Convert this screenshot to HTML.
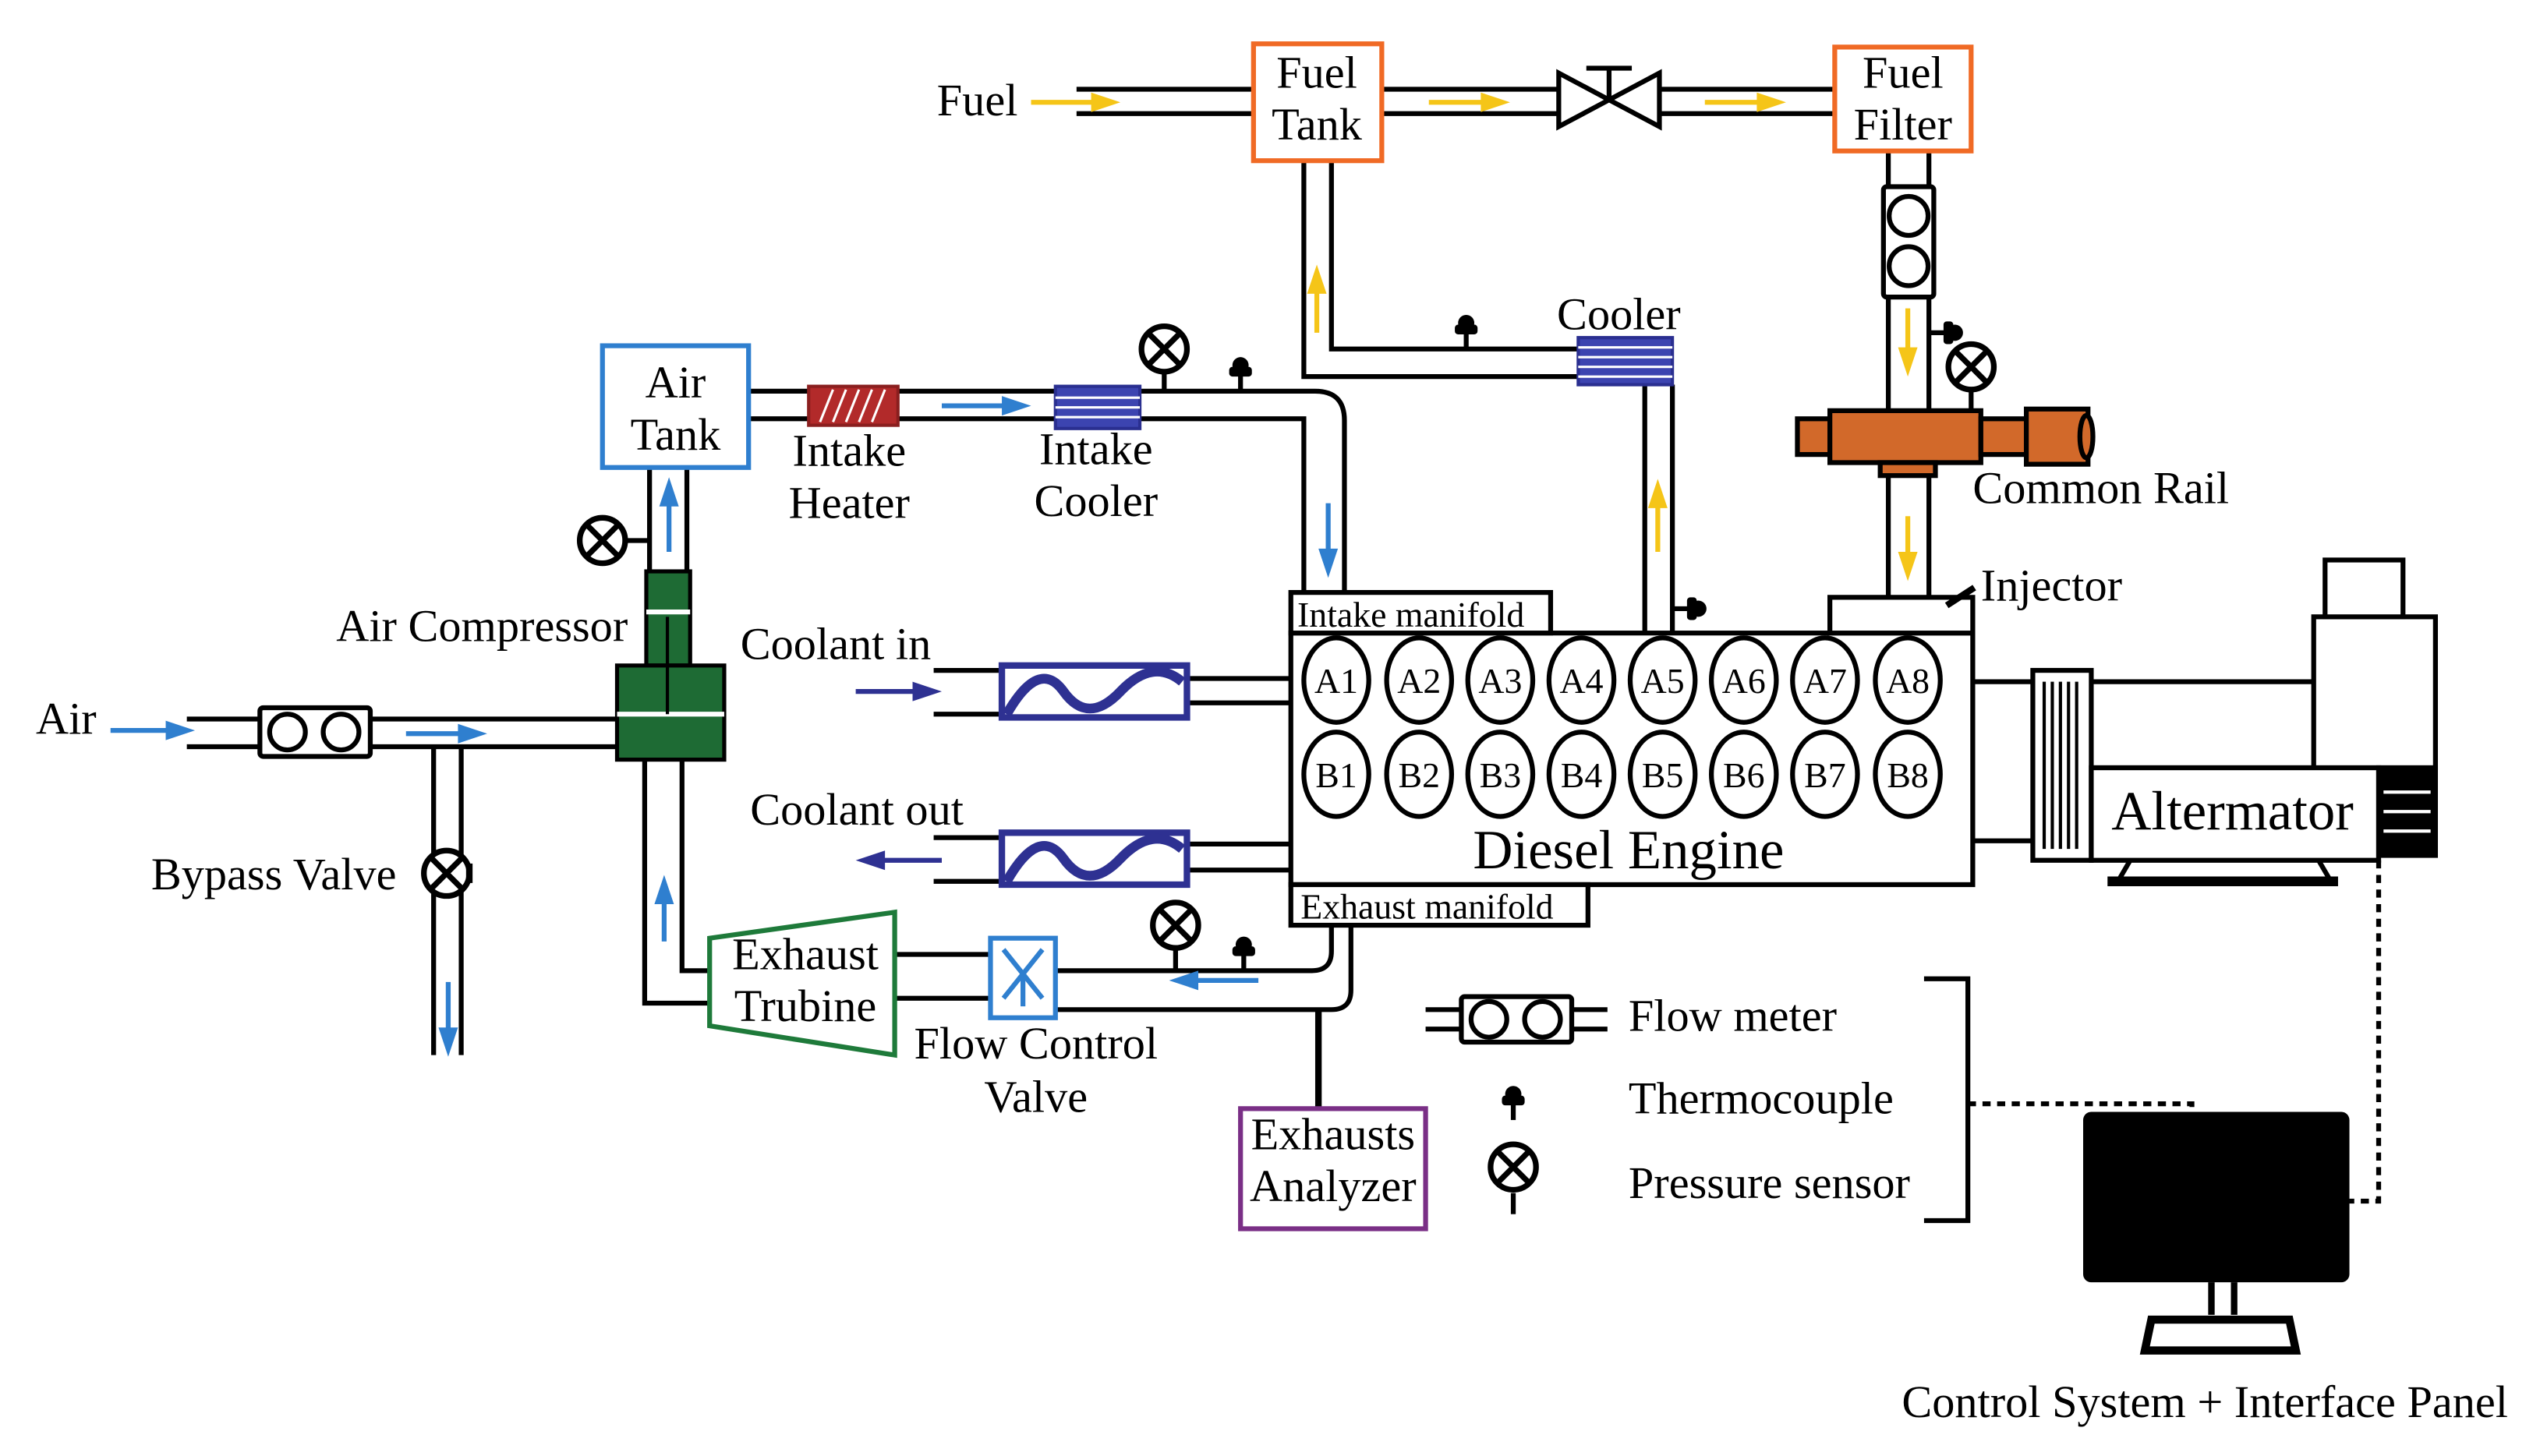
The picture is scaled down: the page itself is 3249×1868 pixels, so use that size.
<!DOCTYPE html>
<html><head><meta charset="utf-8"><style>html,body{margin:0;padding:0;background:#fff}svg{display:block}text{font-family:"Liberation Serif",serif;fill:#000}</style></head><body>
<svg width="3249" height="1868" viewBox="0 0 1560 897" xmlns="http://www.w3.org/2000/svg">
<defs>
<g id="ps"><circle cx="0" cy="0" r="14" fill="#fff" stroke="#000" stroke-width="3.5"/><path d="M-9,-9L9,9M9,-9L-9,9" stroke="#000" stroke-width="3.5"/></g>
<g id="tc"><path d="M0,0v-14" stroke="#000" stroke-width="3"/><circle cx="0" cy="-16" r="5" fill="#000"/><rect x="-7" y="-15" width="14" height="6" rx="2" fill="#000"/></g>
</defs>
<g fill="none" stroke="#000" stroke-width="3">
<path d="M663,55H772M663,70H772M851,55H960M851,70H960M1022,55H1130M1022,70H1130"/>
<path d="M960,45L1022,78V45L960,78Z" fill="#fff"/>
<path d="M991,61V42M977,42H1005"/>
<path d="M803,99V232H972M820,99V215H972"/>
<path d="M1013,237V390M1030,237V390"/>
<path d="M1163,93V115M1188,93V115M1163,183V255M1188,183V255M1163,285V368M1188,285V368"/>
<rect x="1160" y="115" width="31" height="68" rx="2" fill="#fff"/>
<circle cx="1175.5" cy="133" r="12"/><circle cx="1175.5" cy="164" r="12"/>
<path d="M461,241H810Q828,241 828,259V365M461,258H803V365"/>
<path d="M400,288V352M423,288V352"/>
<path d="M115,443H380M115,460H380"/>
<rect x="160" y="436" width="68" height="30" rx="2" fill="#fff"/>
<circle cx="177" cy="451" r="11"/><circle cx="210" cy="451" r="11"/>
<path d="M267,460V650M284,460V650"/>
<path d="M397,468V618H437M420,468V598H437"/>
<path d="M551,588H610M551,615H610M650,598H808Q820,598 820,586V570M650,622H820Q832,622 832,610V570"/>
<path d="M812,622V683" stroke-width="4"/>
<path d="M575,413H617M575,440H617M731,418H795M731,433H795"/>
<path d="M575,516H617M575,543H617M731,520H795M731,536H795"/>
<rect x="795" y="390" width="420" height="155" fill="#fff"/>
<rect x="795" y="365" width="160" height="25" fill="#fff"/>
<rect x="795" y="545" width="183" height="25" fill="#fff"/>
<rect x="1127" y="368" width="88" height="22" fill="#fff"/>
<path d="M1199,373L1216,362" stroke-width="4"/>
<path d="M1215,420H1255M1215,518H1255M1288,420H1425M1288,473H1425"/>
<rect x="1252" y="413" width="36" height="117" fill="#fff"/>
<path d="M1259,420V523M1264,420V523M1269,420V523M1274,420V523M1279,420V523" stroke-width="2"/>
<rect x="1425" y="380" width="75" height="93" fill="#fff"/>
<rect x="1432" y="345" width="48" height="35" fill="#fff"/>
<rect x="1288" y="473" width="177" height="57" fill="#fff"/>
<rect x="1465" y="473" width="35" height="54" fill="#000"/>
<path d="M1468,488H1497M1468,500H1497M1468,512H1497" stroke="#fff" stroke-width="2"/>
<path d="M1312,530L1305,542H1435L1428,530"/>
<path d="M1298,543H1440" stroke-width="6"/>
<path d="M1465,530V740H1447M1212,680H1350V685" stroke-dasharray="5,4"/>
<path d="M878,622H900M878,634H900M968,622H990M968,634H990"/>
<rect x="900" y="614" width="68" height="28" rx="2" fill="#fff"/>
<circle cx="917" cy="628" r="11"/><circle cx="950" cy="628" r="11"/>
<path d="M1185,603H1212V752H1185"/>
<path d="M932,735V748"/>
</g>
<g fill="#fff" stroke="#000" stroke-width="3">
<ellipse cx="823" cy="419" rx="20" ry="26"/><ellipse cx="874" cy="419" rx="20" ry="26"/><ellipse cx="924" cy="419" rx="20" ry="26"/><ellipse cx="974" cy="419" rx="20" ry="26"/><ellipse cx="1024" cy="419" rx="20" ry="26"/><ellipse cx="1074" cy="419" rx="20" ry="26"/><ellipse cx="1124" cy="419" rx="20" ry="26"/><ellipse cx="1175" cy="419" rx="20" ry="26"/>
<ellipse cx="823" cy="477" rx="20" ry="26"/><ellipse cx="874" cy="477" rx="20" ry="26"/><ellipse cx="924" cy="477" rx="20" ry="26"/><ellipse cx="974" cy="477" rx="20" ry="26"/><ellipse cx="1024" cy="477" rx="20" ry="26"/><ellipse cx="1074" cy="477" rx="20" ry="26"/><ellipse cx="1124" cy="477" rx="20" ry="26"/><ellipse cx="1175" cy="477" rx="20" ry="26"/>
</g>
<g font-size="22" text-anchor="middle">
<text x="823" y="427">A1</text><text x="874" y="427">A2</text><text x="924" y="427">A3</text><text x="974" y="427">A4</text><text x="1024" y="427">A5</text><text x="1074" y="427">A6</text><text x="1124" y="427">A7</text><text x="1175" y="427">A8</text>
<text x="823" y="485">B1</text><text x="874" y="485">B2</text><text x="924" y="485">B3</text><text x="974" y="485">B4</text><text x="1024" y="485">B5</text><text x="1074" y="485">B6</text><text x="1124" y="485">B7</text><text x="1175" y="485">B8</text>
</g>
<g fill="none" stroke-width="3">
<rect x="772" y="27" width="79" height="72" stroke="#f06a25" fill="#fff"/>
<rect x="1130" y="29" width="84" height="64" stroke="#f06a25" fill="#fff"/>
<rect x="371" y="213" width="90" height="75" stroke="#2f7fcf" fill="#fff"/>
<rect x="764" y="683" width="114" height="74" stroke="#7a2f86" fill="#fff"/>
<path d="M437,578L551,562V650L437,632Z" stroke="#1e7a3a" fill="#fff"/>
<rect x="610" y="578" width="40" height="49" stroke="#2f7fcf" fill="#fff"/>
<path d="M618,585L630,600L618,615M642,585L630,600L642,615M630,600V620" stroke="#2f7fcf"/>
</g>
<g font-size="28">
<text x="577" y="71">Fuel</text>
<text x="811" y="54" text-anchor="middle">Fuel</text><text x="811" y="86" text-anchor="middle">Tank</text>
<text x="1172" y="54" text-anchor="middle">Fuel</text><text x="1172" y="86" text-anchor="middle">Filter</text>
<text x="997" y="203" text-anchor="middle">Cooler</text>
<text x="1215" y="310">Common Rail</text>
<text x="1220" y="370">Injector</text>
<text x="416" y="245" text-anchor="middle">Air</text><text x="416" y="277" text-anchor="middle">Tank</text>
<text x="523" y="287" text-anchor="middle">Intake</text><text x="523" y="319" text-anchor="middle">Heater</text>
<text x="675" y="286" text-anchor="middle">Intake</text><text x="675" y="318" text-anchor="middle">Cooler</text>
<text x="207" y="395">Air Compressor</text>
<text x="456" y="406">Coolant in</text>
<text x="462" y="508">Coolant out</text>
<text x="22" y="452">Air</text>
<text x="93" y="548">Bypass Valve</text>
<text x="496" y="597" text-anchor="middle">Exhaust</text><text x="496" y="629" text-anchor="middle">Trubine</text>
<text x="638" y="652" text-anchor="middle">Flow Control</text><text x="638" y="685" text-anchor="middle">Valve</text>
<text x="821" y="708" text-anchor="middle">Exhausts</text><text x="821" y="740" text-anchor="middle">Analyzer</text>
<text x="1003" y="635">Flow meter</text>
<text x="1003" y="686">Thermocouple</text>
<text x="1003" y="738">Pressure sensor</text>
<text x="1358" y="873" text-anchor="middle">Control System + Interface Panel</text>
</g>
<text x="1003" y="535" font-size="34" text-anchor="middle">Diesel Engine</text>
<text x="1375" y="511" font-size="34" text-anchor="middle">Altermator</text>
<text x="799" y="386" font-size="22">Intake manifold</text>
<text x="801" y="566" font-size="22">Exhaust manifold</text>
<rect x="498" y="238" width="55" height="24" fill="#b22a2a" stroke="#8a1f1f" stroke-width="2"/>
<path d="M505,260L513,240M513,260L521,240M521,260L529,240M529,260L537,240M537,260L545,240" stroke="#fff" stroke-width="1.5"/>
<rect x="650" y="238" width="52" height="26" fill="#3c44b0" stroke="#2a2f90" stroke-width="2"/>
<path d="M650,245H702M650,251H702M650,257H702" stroke="#fff" stroke-width="1.5"/>
<rect x="972" y="208" width="58" height="29" fill="#3c44b0" stroke="#2a2f90" stroke-width="2"/>
<path d="M972,214H1030M972,220H1030M972,226H1030M972,232H1030" stroke="#fff" stroke-width="1.5"/>
<rect x="617" y="410" width="114" height="32" fill="#fff" stroke="#2e3192" stroke-width="4"/>
<path d="M620,440Q640,405 655,426T690,426T728,420" fill="none" stroke="#2e3192" stroke-width="6"/>
<rect x="617" y="513" width="114" height="32" fill="#fff" stroke="#2e3192" stroke-width="4"/>
<path d="M620,543Q640,508 655,529T690,529T728,523" fill="none" stroke="#2e3192" stroke-width="6"/>
<g fill="#1e6b34" stroke="#000" stroke-width="2.5">
<rect x="398" y="352" width="27" height="58"/>
<rect x="380" y="410" width="66" height="58"/>
</g>
<path d="M398,377H425M380,440H446" stroke="#fff" stroke-width="3"/>
<path d="M411,380V440" stroke="#000" stroke-width="2"/>
<g fill="#d2692a" stroke="#000" stroke-width="3">
<rect x="1107" y="258" width="20" height="22"/>
<rect x="1127" y="253" width="93" height="32"/>
<rect x="1158" y="285" width="34" height="8"/>
<rect x="1220" y="258" width="28" height="22"/>
<rect x="1248" y="252" width="38" height="34"/>
<ellipse cx="1285" cy="269" rx="4" ry="13"/>
</g>
<rect x="1283" y="685" width="164" height="105" rx="5" fill="#000"/>
<path d="M1362,790V810M1376,790V810" stroke="#000" stroke-width="4"/>
<path d="M1325,813H1410L1414,832H1321Z" fill="#fff" stroke="#000" stroke-width="5"/>
<use href="#ps" x="717" y="215"/><path d="M717,229V241" stroke="#000" stroke-width="3"/>
<use href="#ps" x="371" y="333"/><path d="M385,333H400" stroke="#000" stroke-width="3"/>
<use href="#ps" x="724" y="570"/><path d="M724,584V598" stroke="#000" stroke-width="3"/>
<use href="#ps" x="1214" y="226"/><path d="M1214,240V253" stroke="#000" stroke-width="3"/>
<use href="#ps" x="275" y="538"/><path d="M289,532V544" stroke="#000" stroke-width="4"/>
<use href="#ps" x="932" y="719"/>
<use href="#tc" x="764" y="241"/>
<use href="#tc" x="766" y="598"/>
<use href="#tc" x="903" y="215"/>
<use href="#tc" x="932" y="690"/>
<g transform="translate(1188,205) rotate(90)"><use href="#tc"/></g>
<g transform="translate(1030,375) rotate(90)"><use href="#tc"/></g>
<g stroke-width="3" fill="none">
<path d="M635,63H675" stroke="#f5c518"/><path d="M690,63L672,57V69Z" fill="#f5c518" stroke="none"/>
<path d="M880,63H915" stroke="#f5c518"/><path d="M930,63L912,57V69Z" fill="#f5c518" stroke="none"/>
<path d="M1050,63H1085" stroke="#f5c518"/><path d="M1100,63L1082,57V69Z" fill="#f5c518" stroke="none"/>
<path d="M811,205V178" stroke="#f5c518"/><path d="M811,163L805,181H817Z" fill="#f5c518" stroke="none"/>
<path d="M1021,340V310" stroke="#f5c518"/><path d="M1021,295L1015,313H1027Z" fill="#f5c518" stroke="none"/>
<path d="M1175,190V215" stroke="#f5c518"/><path d="M1175,232L1169,214H1181Z" fill="#f5c518" stroke="none"/>
<path d="M1175,318V342" stroke="#f5c518"/><path d="M1175,358L1169,340H1181Z" fill="#f5c518" stroke="none"/>
<path d="M580,250H620" stroke="#2f7fcf"/><path d="M635,250L617,244V256Z" fill="#2f7fcf" stroke="none"/>
<path d="M818,310V340" stroke="#2f7fcf"/><path d="M818,356L812,338H824Z" fill="#2f7fcf" stroke="none"/>
<path d="M412,340V310" stroke="#2f7fcf"/><path d="M412,294L406,312H418Z" fill="#2f7fcf" stroke="none"/>
<path d="M68,450H105" stroke="#2f7fcf"/><path d="M120,450L102,444V456Z" fill="#2f7fcf" stroke="none"/>
<path d="M250,452H285" stroke="#2f7fcf"/><path d="M300,452L282,446V458Z" fill="#2f7fcf" stroke="none"/>
<path d="M276,605V635" stroke="#2f7fcf"/><path d="M276,651L270,633H282Z" fill="#2f7fcf" stroke="none"/>
<path d="M409,580V555" stroke="#2f7fcf"/><path d="M409,539L403,557H415Z" fill="#2f7fcf" stroke="none"/>
<path d="M775,604H737" stroke="#2f7fcf"/><path d="M720,604L738,598V610Z" fill="#2f7fcf" stroke="none"/>
<path d="M527,426H565" stroke="#2e3192"/><path d="M580,426L562,420V432Z" fill="#2e3192" stroke="none"/>
<path d="M580,530H542" stroke="#2e3192"/><path d="M527,530L545,524V536Z" fill="#2e3192" stroke="none"/>
</g>
</svg>
</body></html>
